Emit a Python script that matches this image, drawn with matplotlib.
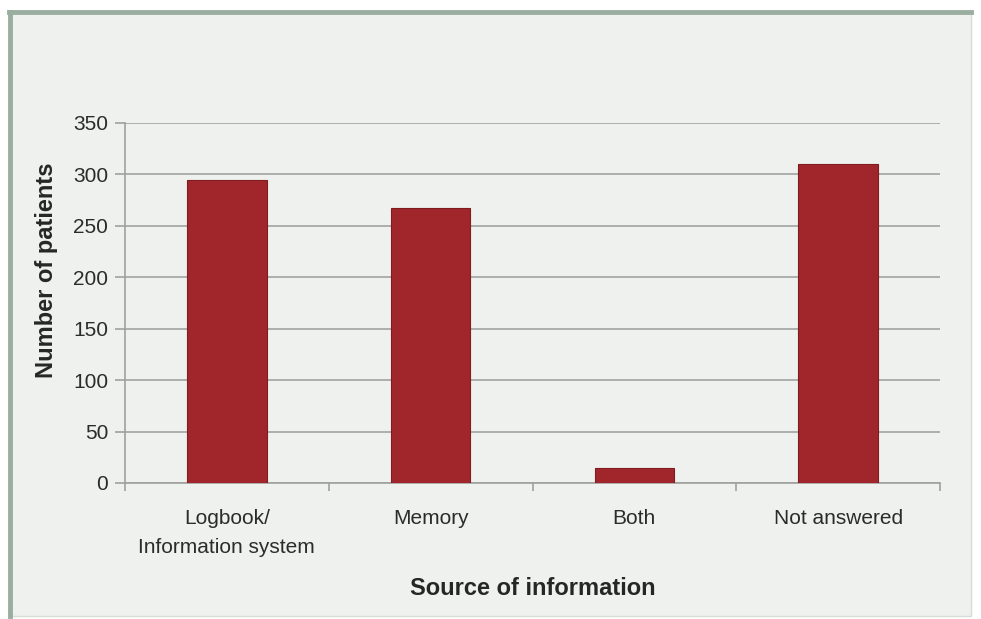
import matplotlib
matplotlib.use("Agg")
import matplotlib.pyplot as plt
from matplotlib.patches import Rectangle
from matplotlib.lines import Line2D

# data
categories = ["Logbook/\nInformation system", "Memory", "Both", "Not answered"]
patients = [295, 267, 15, 310]
yticks = [0, 50, 100, 150, 200, 250, 300, 350]

plt.rcParams['font.family'] = ['Liberation Sans', 'DejaVu Sans']

fig = plt.figure(figsize=(9.81, 6.19), dpi=100, facecolor="white")

# slide panel behind the chart
panel_bg = "#EEF1ED"
fig.patches.append(Rectangle((9/981, 3/619), 962/981, 604/619, transform=fig.transFigure,
                             facecolor=panel_bg, edgecolor="#D6DDD7", linewidth=1, zorder=-10))
fig.lines.append(Line2D([9/981, 971/981], [607/619, 607/619], transform=fig.transFigure,
                        color="#9AAEA0", linewidth=3.5, zorder=-9))
fig.lines.append(Line2D([10/981, 10/981], [3/619, 607/619], transform=fig.transFigure,
                        color="#9AAEA0", linewidth=3.5, zorder=-9))

ax = fig.add_axes([125/981, 1 - 483/619, 815/981, 360/619])
ax.set_facecolor(panel_bg)

x = range(len(categories))
ax.bar(x, patients, width=0.39, color="#A1262C", edgecolor="#7E1C20", linewidth=0.8, zorder=3)

ax.set_xlim(-0.5, len(categories) - 0.5)
ax.set_ylim(0, 350)
ax.set_yticks(yticks)
ax.yaxis.grid(True, color="#A8A8A8", linewidth=1.3, zorder=0)
ax.set_axisbelow(True)

ax.set_xticks(list(x))
ax.set_xticklabels(categories)
for lbl in ax.get_xticklabels():
    lbl.set_linespacing(1.65)
ax.set_xticks([i - 0.5 for i in range(len(categories) + 1)], minor=True)
ax.tick_params(axis="x", which="major", length=0, pad=19, labelsize=15, labelcolor="#2B2B2B")
ax.tick_params(axis="x", which="minor", length=6, color="#A0A0A0", width=1.2)
ax.tick_params(axis="y", length=7, color="#A0A0A0", width=1.2, pad=5, labelsize=15, labelcolor="#2B2B2B")

for s in ["top", "right"]:
    ax.spines[s].set_visible(False)
for s in ["left", "bottom"]:
    ax.spines[s].set_color("#A0A0A0")
    ax.spines[s].set_linewidth(1.2)

ax.set_xlabel("Source of information", fontsize=17, fontweight="bold", color="#262626", labelpad=14)
ax.set_ylabel("Number of patients", fontsize=17, fontweight="bold", color="#262626")
ax.yaxis.set_label_coords(-0.082, 0.592)

fig.savefig("out.png", dpi=100, facecolor="white")
